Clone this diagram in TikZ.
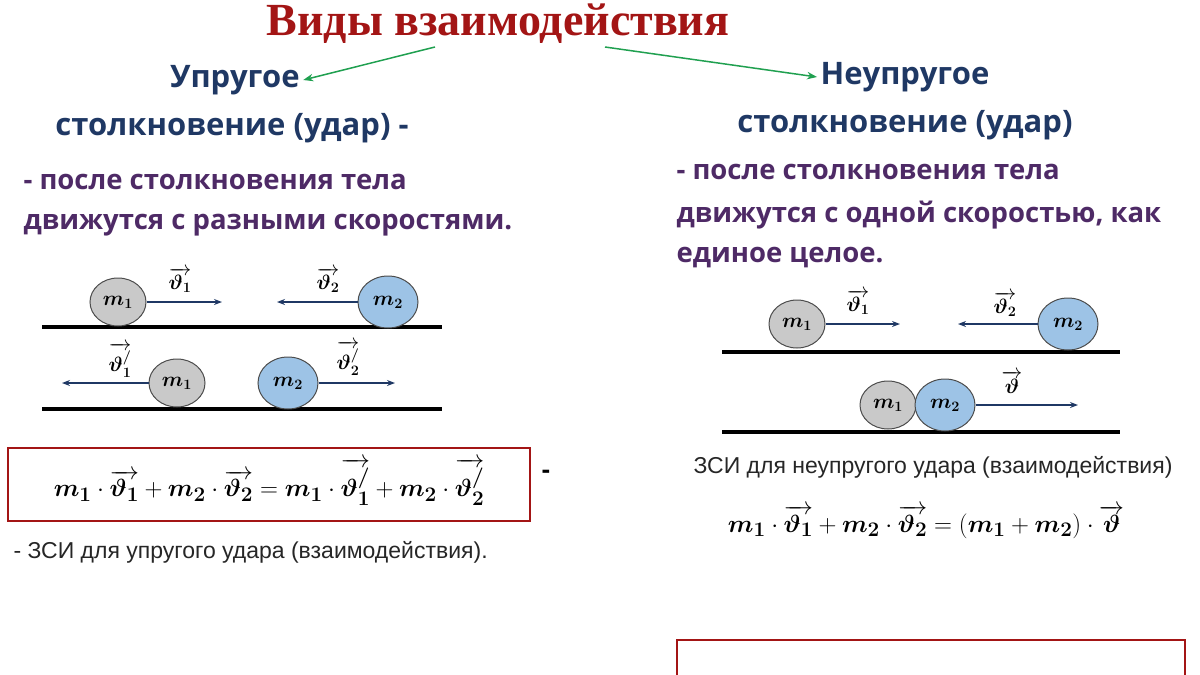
\documentclass[tikz,border=0pt]{standalone}
\usepackage{amsmath,bm}
\usepackage{fontspec}
\setmainfont{Liberation Sans}
\newfontfamily\titlefont{Liberation Serif}
\newfontfamily\bodyfont{Open Sans}
\usetikzlibrary{arrows.meta,shapes.geometric}
\definecolor{navy}{HTML}{1F3864}
\definecolor{purp}{HTML}{4E2A66}
\definecolor{dred}{HTML}{A31515}
\definecolor{grn}{HTML}{20A050}
\definecolor{ballb}{HTML}{9DC3E6}
\definecolor{ballg}{HTML}{C9C9C9}
\newcommand{\vv}[1]{\overrightarrow{\bm{#1}}}
\begin{document}
\begin{tikzpicture}[x=1pt,y=-1pt,
 head/.style={font=\bodyfont\bfseries\fontsize{31}{34}\selectfont,text=navy},
 desc/.style={font=\bodyfont\bfseries\fontsize{27.5}{30}\selectfont,text=purp,anchor=west},
 ground/.style={line width=3.2pt,black},
 ballA/.style={ellipse,draw=black!70,line width=1pt,fill=ballg,minimum width=56pt,minimum height=48pt,inner sep=0pt,font=\fontsize{20}{22}\selectfont},
 ballB/.style={ellipse,draw=black!70,line width=1pt,fill=ballb,minimum width=60pt,minimum height=52pt,inner sep=0pt,font=\fontsize{20}{22}\selectfont},
 varr/.style={-{Stealth[length=8pt]},line width=1.8pt,navy},
 vlab/.style={font=\fontsize{22}{24}\selectfont},
 garr/.style={-{Stealth[length=10pt]},line width=1.5pt,grn},
 fml/.style={font=\fontsize{30}{32}\selectfont},
 note/.style={font=\fontsize{23}{25}\selectfont,text=black!85}]
\useasboundingbox (0,0) rectangle (1200,675);
\node[font=\titlefont\bfseries\fontsize{46}{50}\selectfont,text=dred] (title) at (498,24) {Виды взаимодействия};
\node[head] (el1) at (235,80) {Упругое};
\node[head] (el2) at (232,128) {столкновение (удар) -};
\node[head] (in1) at (905,77) {Неупругое};
\node[head] (in2) at (905,125) {столкновение (удар)};
\coordinate (g1) at (435,47); \coordinate (g2) at (605,47);
\draw[garr] (g1) -- (el1.east);
\draw[garr] (g2) -- (in1.west);
\node[desc] (d1) at (20,182) {- после столкновения тела};
\node[desc] (d2) at (20,225) {движутся с разными скоростями.};
\node[desc] (d3) at (673,172) {- после столкновения тела};
\node[desc] (d4) at (673,215) {движутся с одной скоростью, как};
\node[desc] (d5) at (673,258) {единое целое.};
% left row 1
\coordinate (la) at (42,327); \coordinate (lb) at (442,327);
\draw[ground] (la) -- (lb);
\node[ballA] (a1) at (118,302) {$\bm{m_1}$};
\node[ballB] (a2) at (388,302) {$\bm{m_2}$};
\coordinate (a1e) at (222,302); \coordinate (a2e) at (277,302);
\draw[varr] (a1.east) -- (a1e);
\draw[varr] (a2.west) -- (a2e);
\node[vlab] (v1) at (180,280) {$\vv{\vartheta_1}$};
\node[vlab] (v2) at (328,280) {$\vv{\vartheta_2}$};
% left row 2
\coordinate (lc) at (42,409); \coordinate (ld) at (442,409);
\draw[ground] (lc) -- (ld);
\node[ballA] (b1) at (177,383) {$\bm{m_1}$};
\node[ballB] (b2) at (288,383) {$\bm{m_2}$};
\coordinate (b1e) at (62,383); \coordinate (b2e) at (395,383);
\draw[varr] (b1.west) -- (b1e);
\draw[varr] (b2.east) -- (b2e);
\node[vlab] (v3) at (120,360) {$\vv{\vartheta_1^{/}}$};
\node[vlab] (v4) at (348,358) {$\vv{\vartheta_2^{/}}$};
% formula left
\node[draw=dred,line width=2pt,minimum width=522pt,minimum height=73pt] (box1) at (269,484) {};
\node[fml] (f1) at (269,482) {$\bm{m_1}\cdot\vv{\vartheta_1}+\bm{m_2}\cdot\vv{\vartheta_2}=\bm{m_1}\cdot\vv{\vartheta_1^{/}}+\bm{m_2}\cdot\vv{\vartheta_2^{/}}$};
\node[font=\bfseries\fontsize{26}{28}\selectfont] (dash) at (546,474) {-};
\node[note,anchor=west] (n1) at (10,552) {- ЗСИ для упругого удара (взаимодействия).};
% right row 1
\coordinate (ra) at (722,352); \coordinate (rb) at (1120,352);
\draw[ground] (ra) -- (rb);
\node[ballA] (c1) at (797,324) {$\bm{m_1}$};
\node[ballB] (c2) at (1068,324) {$\bm{m_2}$};
\coordinate (c1e) at (900,324); \coordinate (c2e) at (958,324);
\draw[varr] (c1.east) -- (c1e);
\draw[varr] (c2.west) -- (c2e);
\node[vlab] (v5) at (858,302) {$\vv{\vartheta_1}$};
\node[vlab] (v6) at (1005,304) {$\vv{\vartheta_2}$};
% right row 2
\coordinate (rc) at (722,432); \coordinate (rd) at (1120,432);
\draw[ground] (rc) -- (rd);
\node[ballA] (e1) at (888,405) {$\bm{m_1}$};
\node[ballB] (e2) at (945,405) {$\bm{m_2}$};
\coordinate (e2e) at (1078,405);
\draw[varr] (e2.east) -- (e2e);
\node[vlab] (v7) at (1012,382) {$\vv{\vartheta}$};
\node[note] (n2) at (933,467) {ЗСИ для неупругого удара (взаимодействия)};
\node[fml] (f2) at (926,522) {$\bm{m_1}\cdot\vv{\vartheta_1}+\bm{m_2}\cdot\vv{\vartheta_2}=(\bm{m_1}+\bm{m_2})\cdot\vv{\vartheta}$};
\draw[dred,line width=2pt] (677,680) |- (1185,640) -- (1185,680);
\end{tikzpicture}
\end{document}
